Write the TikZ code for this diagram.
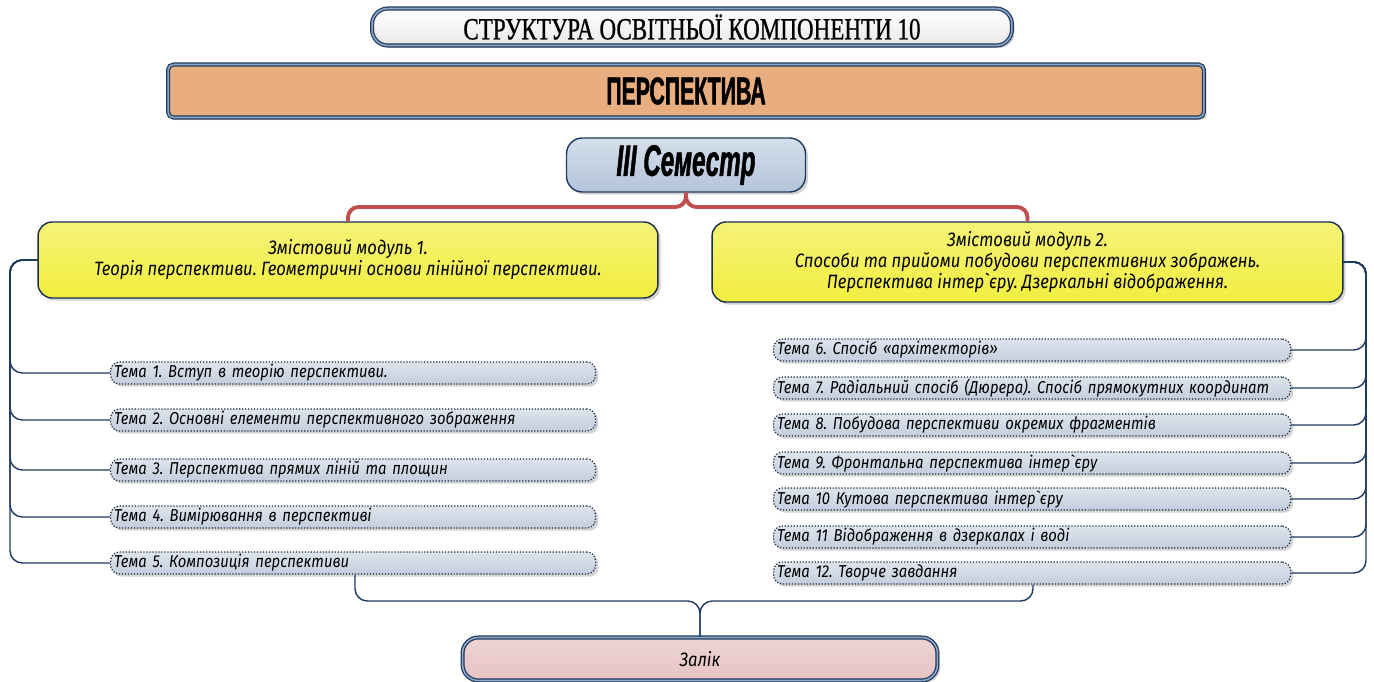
\documentclass[tikz,border=0pt]{standalone}
\usepackage{fontspec}
\setmainfont{Liberation Sans}
\newfontfamily\titlefont[FakeStretch=0.75, FakeBold=0.8]{Liberation Serif}
\newfontfamily\heavyfont[FakeStretch=0.55, FakeBold=1.2]{Liberation Sans}
\newfontfamily\gostfont[FakeStretch=0.86]{Fira Sans}
\usetikzlibrary{shadows}

\definecolor{navy}{HTML}{1F3A5F}
\definecolor{rimblue}{HTML}{8FA8C8}
\definecolor{orangefill}{HTML}{E9AE80}
\definecolor{semfill}{HTML}{B3C4DA}
\definecolor{modfill}{HTML}{F1EE3E}
\definecolor{topicfill}{HTML}{C3CEDD}
\definecolor{examfill}{HTML}{E6C3C2}
\definecolor{redline}{HTML}{C0504D}

\begin{document}
\frenchspacing
\begin{tikzpicture}
	[x=0.02cm, y=-0.02cm,
	 shade/.style={drop shadow={shadow xshift=1.5pt, shadow yshift=-1.5pt, opacity=0.35}},
	 rim/.style={draw=navy, line width=0.7pt, double=rimblue, double distance=0.9pt},
	 titlebox/.style={rim, shade, rounded corners=9pt, top color=white, bottom color=gray!18,
		minimum width=12.8cm, minimum height=0.74cm, font=\titlefont\fontsize{17.5}{19}\selectfont},
	 subjbox/.style={rim, shade, rounded corners=3pt, fill=orangefill,
		minimum width=20.72cm, minimum height=1.06cm, font=\heavyfont\bfseries\fontsize{22}{24}\selectfont},
	 sembox/.style={draw=navy, line width=0.8pt, shade, rounded corners=9pt, top color=semfill!55, bottom color=semfill,
		minimum width=4.78cm, minimum height=1.08cm, font=\heavyfont\bfseries\itshape\fontsize{25}{27}\selectfont},
	 modbox/.style={draw=navy!80!black, line width=0.8pt, shade, rounded corners=8pt, top color=modfill!70, bottom color=modfill,
		align=center, minimum height=1.52cm, font=\gostfont\itshape\fontsize{11}{12}\selectfont},
	 topic/.style={draw=navy!70!black, densely dotted, line width=0.7pt, shade, rounded corners=5pt,
		top color=topicfill!55, bottom color=topicfill, inner xsep=2pt, inner ysep=1pt, align=left,
		minimum height=0.44cm, font=\gostfont\itshape\fontsize{9.8}{11}\selectfont},
	 topicL/.style={topic, text width=9.56cm, anchor=west},
	 topicR/.style={topic, text width=10.2cm, anchor=west},
	 exambox/.style={rim, shade, rounded corners=9pt, top color=examfill!70, bottom color=examfill,
		minimum width=9.5cm, minimum height=0.86cm, font=\gostfont\itshape\fontsize{11}{12}\selectfont},
	 bline/.style={draw=navy, line width=0.8pt, rounded corners=7pt},
	 rline/.style={draw=redline, line width=2.2pt, rounded corners=6pt}]
	\useasboundingbox (0,0) rectangle (1374,682);

	% headings
	\node[titlebox] (title) at (692,27) {СТРУКТУРА ОСВІТНЬОЇ КОМПОНЕНТИ 10};
	\node[subjbox] (subj) at (686,91) {ПЕРСПЕКТИВА};
	\node[sembox] (sem) at (686,165) {III Семестр};

	% modules
	\node[modbox, minimum width=12.4cm] (mod1) at (348,260)
		{Змістовий модуль 1.\\Теорія перспективи. Геометричні основи лінійної перспективи.};
	\node[modbox, minimum width=12.62cm, minimum height=1.6cm] (mod2) at (1027.5,262)
		{Змістовий модуль 2.\\Способи та прийоми побудови перспективних зображень.\\Перспектива інтер`єру. Дзеркальні відображення.};

	% topics of module 1
	\node[topicL] (t1) at (110,373) {Тема 1. Вступ в теорію перспективи.};
	\node[topicL] (t2) at (110,420) {Тема 2. Основні елементи перспективного зображення};
	\node[topicL] (t3) at (110,470) {Тема 3. Перспектива прямих ліній та площин};
	\node[topicL] (t4) at (110,517) {Тема 4. Вимірювання в перспективі};
	\node[topicL] (t5) at (110,563) {Тема 5. Композиція перспективи};

	% topics of module 2
	\node[topicR] (t6) at (773,350) {Тема 6. Спосіб «архітекторів»};
	\node[topicR] (t7) at (773,388) {Тема 7. Радіальний спосіб (Дюрера). Спосіб прямокутних координат};
	\node[topicR] (t8) at (773,425) {Тема 8. Побудова перспективи окремих фрагментів};
	\node[topicR] (t9) at (773,463) {Тема 9. Фронтальна перспектива інтер`єру};
	\node[topicR] (t10) at (773,499) {Тема 10 Кутова перспектива інтер`єру};
	\node[topicR] (t11) at (773,537) {Тема 11 Відображення в дзеркалах і воді};
	\node[topicR] (t12) at (773,573) {Тема 12. Творче завдання};

	\node[exambox] (exam) at (700,659) {Залік};

	% connectors
	\coordinate (rb) at (686,207);
	\draw[rline] (sem.south) -- (rb) -| (mod1.north);
	\draw[rline] (sem.south) -- (rb) -| (mod2.north);

	\coordinate (lx) at (10,0);
	\coordinate (rx) at (1366,0);
	\foreach \i in {1,...,5}
		\draw[bline] (mod1.west) -| (lx |- t\i.west) -- (t\i.west);
	\foreach \i in {6,...,12}
		\draw[bline] (mod2.east) -| (rx |- t\i.east) -- (t\i.east);

	\path (t5.south west) ++(245,0) coordinate (c5);
	\path (t12.south west) ++(260,0) coordinate (c12);
	\coordinate (bj) at (700,601);
	\draw[bline] (c5) |- (bj) -- (exam.north);
	\draw[bline] (c12) |- (bj) -- (exam.north);
\end{tikzpicture}
\end{document}
